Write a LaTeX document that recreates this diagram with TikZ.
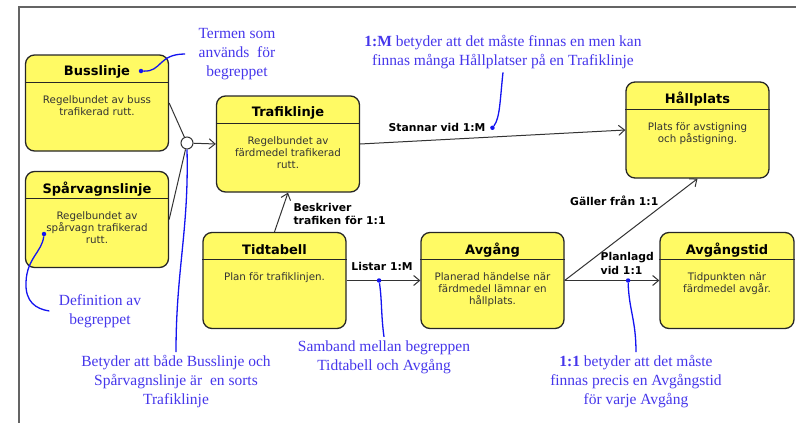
\documentclass[tikz,border=0pt]{standalone}
\usepackage{fontspec}
\setmainfont{Liberation Serif}
\newfontfamily\boxfont{DejaVu Sans}
\usepackage{tikz}
\usetikzlibrary{arrows.meta, positioning, calc}
\definecolor{BoxYellow}{RGB}{255,250,100}
\definecolor{NoteBlue}{RGB}{70,55,235}
\definecolor{PenBlue}{RGB}{20,20,240}
\definecolor{FrameGrey}{RGB}{100,100,100}

% entity box: [options]{name}{centre}{title}{definition}
\newcommand{\entitybox}[5][]{%
  \node[entity, #1] (#2) at (#3) {};
  \node[etitle] (#2-title) at ($(#2.north)+(0,18)$) {#4};
  \draw[ebar] ($(#2.north west)+(0,28)$) -- ($(#2.north east)+(0,28)$);
  \node[ebody] (#2-body) at ($(#2.north)+(0,41)$) {#5};
}

\begin{document}
\begin{tikzpicture}[x=1pt, y=-1pt, >={Straight Barb[length=6pt, width=10pt]},
    entity/.style={draw=black!85, line width=1.3pt, fill=BoxYellow, rounded corners=9pt,
      minimum width=143pt, minimum height=96pt, inner sep=0pt},
    etitle/.style={font=\boxfont\bfseries\fontsize{13}{15}\selectfont},
    ebar/.style={draw=black!85, line width=1.1pt},
    ebody/.style={anchor=north, align=center, inner sep=0pt, text=black!80,
      font=\boxfont\fontsize{10.3}{12}\selectfont},
    link/.style={draw=black!80, line width=1pt},
    rel/.style={font=\boxfont\bfseries\fontsize{10.8}{13.5}\selectfont, inner sep=1.5pt},
    note/.style={text=NoteBlue, align=center, font=\fontsize{15.5}{19}\selectfont},
    pen/.style={PenBlue, line width=1.3pt},
    pendot/.style={circle, fill=PenBlue, inner sep=0pt, minimum size=4.5pt}]
  \useasboundingbox (0,0) rectangle (796,423);
  % Frame
  \draw[FrameGrey, line width=1.5pt] (796,7) -- (19,7) -- (19,423);

  % Entities
  \entitybox{bus}{97,103}{Busslinje}{Regelbundet av buss\\trafikerad rutt.}
  \entitybox{spar}{97,219.5}{Spårvagnslinje}{Regelbundet av\\spårvagn trafikerad\\rutt.}
  \entitybox{traf}{288,144}{Trafiklinje}{Regelbundet av\\färdmedel trafikerad\\rutt.}
  \entitybox{hall}{697.5,130}{Hållplats}{Plats för avstigning\\och påstigning.}
  \entitybox{tid}{274.5,280.5}{Tidtabell}{Plan för trafiklinjen.}
  \entitybox{avg}{492.5,280.5}{Avgång}{Planerad händelse när\\färdmedel lämnar en\\hållplats.}
  \entitybox[minimum width=134pt]{avgt}{727,280.5}{Avgångstid}{Tidpunkten när\\färdmedel avgår.}

  % Generalisation
  \node[draw=black!80, line width=1pt, fill=white, circle, minimum size=12pt, inner sep=0pt] (isa) at (187,143) {};
  \draw[link] (bus.east) -- (isa);
  \draw[link] (spar.east) -- (isa);
  \draw[link, ->] (isa) -- (traf.west);

  % Relations
  \draw[link, ->] (tid.north) -- (traf.south)
    node[rel, pos=0.45, right=11pt, align=left] (beskriver) {Beskriver\\trafiken för 1:1};
  \draw[link, ->] (traf.east) -- (hall.west)
    node[rel, pos=0.29, above=6pt] (stannar) {Stannar vid 1:M};
  \draw[link, ->] (tid.east) -- (avg.west)
    node[rel, pos=0.48, above=8pt] (listar) {Listar 1:M}
    node[pendot, pos=0.44] (dotL) {};
  \draw[link, ->] (avg.east) -- (avgt.west)
    node[rel, pos=0.36, anchor=south west, yshift=4pt, align=left] (planlagd) {Planlagd\\vid 1:1}
    node[pendot, pos=0.67] (dotP) {};
  \draw[link, ->] (avg.east) -- (hall.south)
    node[rel, pos=0.72, anchor=south east] (galler) {Gäller från 1:1};

  % Notes
  \node[note] (termen) at (237,54) {Termen som\\används \ för\\begreppet};
  \node[pendot] (dotT) at (141,71) {};
  \draw[pen] (dotT) .. controls (162,72) and (158,54) .. ($(termen.west)+(-10,0)$);

  \node[note] (defn) at (100,311) {Definition av\\begreppet};
  \node[pendot] (dotD) at (44,234) {};
  \draw[pen] (dotD) .. controls (42,252) and (27,258) .. (26,282)
    .. controls (25,302) and (36,309) .. ($(defn.west)+(-6,0)$);

  \node[note] (betyder) at (176,382) {Betyder att både Busslinje och\\Spårvagnslinje är \ en sorts\\Trafiklinje};
  \draw[pen] (isa.south) .. controls (189,230) and (176,270) .. (betyder.north);

  \node[note] (samband) at (384,357) {Samband mellan begreppen\\Tidtabell och Avgång};
  \draw[pen] (dotL) .. controls (382,300) and (381,315) .. (samband.north);

  \node[note] (ettett) at (636,382) {\textbf{1:1} betyder att det måste\\finnas precis en Avgångstid\\för varje Avgång};
  \draw[pen] (dotP) .. controls (629,310) and (636,320) .. (ettett.north);

  \node[note] (ettmange) at (503,52) {\textbf{1:M} betyder att det måste finnas en men kan\\finnas många Hållplatser på en Trafiklinje};
  \node[pendot] (dotM) at ($(stannar.east)+(5,0)$) {};
  \draw[pen] (dotM) .. controls (500,118) and (500,100) .. (ettmange.south);
\end{tikzpicture}
\end{document}
